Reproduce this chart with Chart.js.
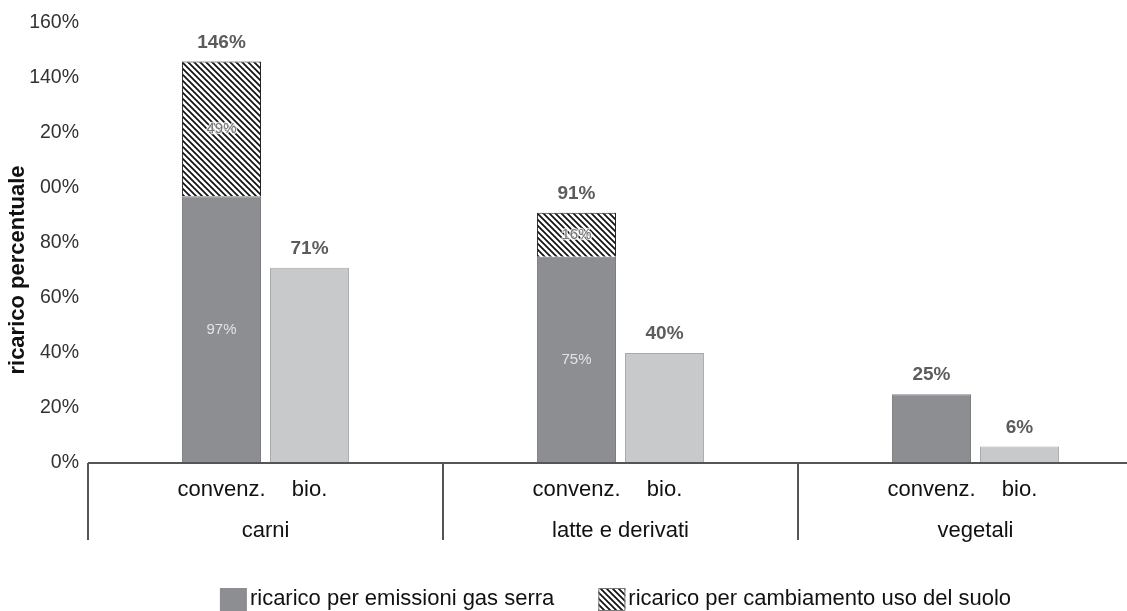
<!DOCTYPE html>
<html lang="it">
<head>
<meta charset="utf-8">
<title>Ricarico percentuale</title>
<script src="https://cdn.jsdelivr.net/npm/chart.js@4/dist/chart.umd.min.js"></script>
<style>
  html, body { margin: 0; padding: 0; background: #fff; overflow: hidden; }
  #wrap { width: 1160px; height: 611px; position: relative; }
</style>
</head>
<body>
<div id="wrap"><canvas id="chart"></canvas></div>
<script>
// Categorie e serie
const categories = ['carni', 'latte e derivati', 'vegetali'];
const subLabels = ['convenz.', 'bio.'];
const emissioniConv = [97, 75, 25];      // ricarico per emissioni gas serra (convenzionale)
const suoloConv = [49, 16, null];        // ricarico per cambiamento uso del suolo (convenzionale)
const bioValues = [71, 40, 6];           // prodotti biologici
const yTickLabels = ['0%', '20%', '40%', '60%', '80%', '00%', '20%', '140%', '160%'];
const yTitle = 'ricarico percentuale';
const legendLabels = ['ricarico per emissioni gas serra', 'ricarico per cambiamento uso del suolo'];

const FONT = '"Liberation Sans", Arial, Helvetica, sans-serif';
const DARK = '#8d8e91';
const LIGHT = '#c8c9cb';

const canvas = document.getElementById('chart');
const ctx0 = canvas.getContext('2d');

function hatchPattern(ctx) {
  const s = 6;
  const c = document.createElement('canvas');
  c.width = s; c.height = s;
  const g = c.getContext('2d');
  g.fillStyle = '#fff';
  g.fillRect(0, 0, s, s);
  g.strokeStyle = '#111';
  g.lineWidth = 1.7;
  g.beginPath();
  g.moveTo(-1, -1); g.lineTo(s + 1, s + 1);
  g.moveTo(-1, s - 1); g.lineTo(1, s + 1);
  g.moveTo(s - 1, -1); g.lineTo(s + 1, 1);
  g.stroke();
  return ctx.createPattern(c, 'repeat');
}
const HATCH = hatchPattern(ctx0);

Chart.defaults.font.family = FONT;

// Asse a due livelli, titolo verticale, etichette dei valori e legenda
const decorations = {
  id: 'decorations',
  afterDatasetsDraw(chart) {
    const ctx = chart.ctx;
    const area = chart.chartArea;
    const xs = chart.scales.x;
    const ys = chart.scales.y;
    const m0 = chart.getDatasetMeta(0);
    const m1 = chart.getDatasetMeta(1);
    const m2 = chart.getDatasetMeta(2);

    ctx.save();
    // titolo dell'asse verticale
    ctx.save();
    ctx.translate(18, 270);
    ctx.rotate(-Math.PI / 2);
    ctx.textAlign = 'center';
    ctx.textBaseline = 'middle';
    ctx.fillStyle = '#111';
    ctx.font = 'bold 22px ' + FONT;
    ctx.fillText(yTitle, 0, 0);
    ctx.restore();

    // valori interni ai segmenti
    ctx.textAlign = 'center';
    ctx.textBaseline = 'middle';
    ctx.font = '15px ' + FONT;
    categories.forEach((_, i) => {
      if (suoloConv[i] == null) return;
      const e = m0.data[i];
      ctx.fillStyle = '#e4e4e5';
      ctx.fillText(emissioniConv[i] + '%', e.x, (e.y + e.base) / 2);
      const s = m1.data[i];
      const sy = (s.y + s.base) / 2;
      ctx.lineJoin = 'round';
      ctx.lineWidth = 2.5;
      ctx.strokeStyle = 'rgba(255,255,255,0.75)';
      ctx.strokeText(suoloConv[i] + '%', s.x, sy);
      ctx.fillStyle = '#777';
      ctx.fillText(suoloConv[i] + '%', s.x, sy);
    });

    // totali sopra le barre
    ctx.font = 'bold 19px ' + FONT;
    ctx.fillStyle = '#5c5c5c';
    categories.forEach((_, i) => {
      const tot = emissioniConv[i] + (suoloConv[i] || 0);
      ctx.fillText(tot + '%', m0.data[i].x, ys.getPixelForValue(tot) - 19);
      ctx.fillText(bioValues[i] + '%', m2.data[i].x, m2.data[i].y - 19);
    });

    // asse orizzontale e separatori di categoria
    const bottom = area.bottom;
    const step = xs.getPixelForValue(1) - xs.getPixelForValue(0);
    ctx.strokeStyle = '#555';
    ctx.lineWidth = 2;
    ctx.beginPath();
    ctx.moveTo(area.left, bottom);
    ctx.lineTo(chart.width, bottom);
    for (let i = 0; i <= categories.length; i++) {
      const bx = Math.round(xs.getPixelForValue(i) - step / 2);
      ctx.moveTo(bx, bottom);
      ctx.lineTo(bx, bottom + 77);
    }
    ctx.stroke();

    // etichette dei due livelli
    ctx.fillStyle = '#111';
    ctx.font = '22px ' + FONT;
    categories.forEach((name, i) => {
      ctx.fillText(subLabels[0], m0.data[i].x, bottom + 27);
      ctx.fillText(subLabels[1], m2.data[i].x, bottom + 27);
      ctx.fillText(name, xs.getPixelForValue(i), bottom + 68);
    });

    // legenda
    ctx.font = '22px ' + FONT;
    ctx.textAlign = 'left';
    const sw = 27, sh = 23, gap = 3, spacing = 44;
    const w1 = ctx.measureText(legendLabels[0]).width;
    const w2 = ctx.measureText(legendLabels[1]).width;
    const total = sw + gap + w1 + spacing + sw + gap + w2;
    let lx = (area.left + area.right) / 2 - 5 - total / 2;
    const ly = 588;
    const fills = [chart.data.datasets[0].backgroundColor, chart.data.datasets[1].backgroundColor];
    [w1, w2].forEach((w, k) => {
      ctx.fillStyle = fills[k];
      ctx.fillRect(lx, ly, sw, sh);
      if (k === 1) {
        ctx.strokeStyle = '#777';
        ctx.lineWidth = 1;
        ctx.strokeRect(lx + 0.5, ly + 0.5, sw - 1, sh - 1);
      }
      ctx.fillStyle = '#111';
      ctx.fillText(legendLabels[k], lx + sw + gap, ly + 11);
      lx += sw + gap + w + spacing;
    });
    ctx.restore();
  }
};

new Chart(canvas, {
  type: 'bar',
  data: {
    labels: categories,
    datasets: [
      {
        label: legendLabels[0],
        data: emissioniConv,
        stack: 'conv',
        backgroundColor: DARK,
        borderColor: '#7c7d80',
        borderWidth: 1
      },
      {
        label: legendLabels[1],
        data: suoloConv,
        stack: 'conv',
        backgroundColor: HATCH,
        borderColor: '#222',
        borderWidth: 1
      },
      {
        label: 'bio.',
        data: bioValues,
        stack: 'bio',
        backgroundColor: LIGHT,
        borderColor: '#a8a9ab',
        borderWidth: 1
      }
    ]
  },
  options: {
    responsive: true,
    maintainAspectRatio: false,
    animation: false,
    devicePixelRatio: 1,
    categoryPercentage: 0.496,
    barPercentage: 0.898,
    layout: { padding: { top: 23, bottom: 148, left: 0, right: 7 } },
    plugins: {
      legend: { display: false },
      tooltip: { enabled: false }
    },
    scales: {
      x: {
        display: false,
        stacked: true
      },
      y: {
        stacked: true,
        min: 0,
        max: 160,
        border: { display: false },
        grid: { display: false, drawTicks: false },
        ticks: {
          stepSize: 20,
          padding: 9,
          color: '#333',
          font: { size: 19.5 },
          callback: (v) => yTickLabels[Math.round(v / 20)]
        },
        afterFit(scale) { scale.width = 88; }
      }
    }
  },
  plugins: [decorations]
});
</script>
</body>
</html>
